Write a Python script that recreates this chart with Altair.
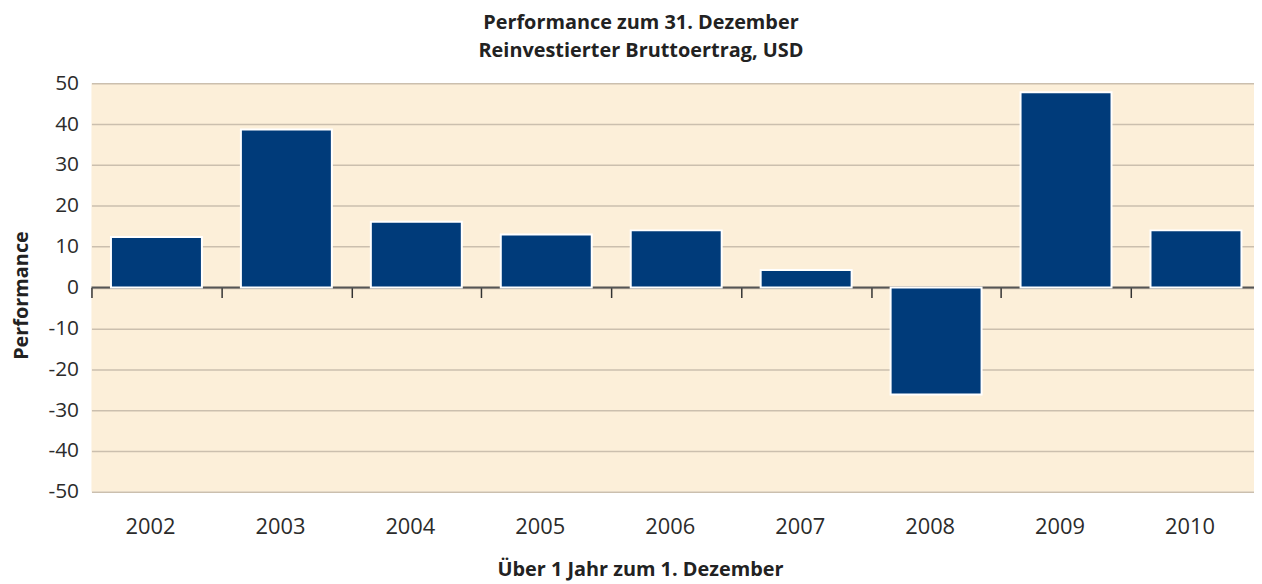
import altair as alt
import pandas as pd

years = ["2002", "2003", "2004", "2005", "2006", "2007", "2008", "2009", "2010"]
values = [12.4, 38.7, 16.1, 13.0, 14.0, 4.3, -26.2, 47.8, 14.0]
y_ticks = [-50, -40, -30, -20, -10, 0, 10, 20, 30, 40, 50]
zero_level = [0]

title_lines = ["Performance zum 31. Dezember", "Reinvestierter Bruttoertrag, USD"]
x_title = "Über 1 Jahr zum 1. Dezember"
y_title = "Performance"

FONT = "Open Sans"
BAR = "#003b7a"
BG = "#fcefd9"
GRID = "#cbbfae"
TXT = "#2b2b2b"

df = pd.DataFrame({"year": years, "value": values})
zero_df = pd.DataFrame({"zero": zero_level})

x_scale = alt.Scale(domain=years, range=[0, 1177], paddingInner=0.3, paddingOuter=0.15)
y_scale = alt.Scale(domain=[-50, 50], nice=False)

zero_line = alt.Chart(zero_df).mark_rule(color="#555555", strokeWidth=2).encode(
    y=alt.Y("zero:Q")
)

# invisible layer carrying a second x axis whose ticks sit on the zero line at band boundaries
tick_axis = alt.Chart(df).mark_tick(opacity=0).encode(
    x=alt.X(
        "year:O",
        sort=years,
        scale=x_scale,
        title=None,
        axis=alt.Axis(
            orient="bottom", offset=-205.5, labels=False, domain=False, grid=False,
            ticks=True, bandPosition=0, tickOffset=-19.6, tickSize=10, tickWidth=1.5,
            tickColor="#333333",
        ),
    ),
    y=alt.datum(0),
)

bars = alt.Chart(df).mark_bar(color=BAR, stroke="white", strokeWidth=2).encode(
    x=alt.X(
        "year:O",
        sort=years,
        scale=x_scale,
        title=x_title,
        axis=alt.Axis(
            orient="bottom",
            domain=False, ticks=False, tickSize=0, grid=False,
            labelFontSize=22, labelColor=TXT, labelPadding=25, labelOffset=-6, labelAngle=0,
            titleFontSize=20, titleFontWeight="bold", titleColor="#222222",
            titleX=552, titleY=84, titleBaseline="alphabetic", titleAlign="center",
        ),
    ),
    y=alt.Y(
        "value:Q",
        scale=y_scale,
        title=y_title,
        axis=alt.Axis(
            values=y_ticks, domain=False, ticks=False, tickSize=0,
            labelFontSize=21, labelColor=TXT, labelPadding=13,
            labelExpr="'' + datum.value",
            grid=True, gridColor=GRID, gridWidth=1.5,
            titleFontSize=20, titleFontWeight="bold", titleColor="#222222",
            titleX=-64, titleY=213, titleBaseline="alphabetic", titleAlign="center",
        ),
    ),
)

chart = alt.layer(zero_line, tick_axis, bars).resolve_axis(x="independent").properties(
    width=1170,
    height=411,
    autosize=alt.AutoSizeParams(type="none"),
    padding={"left": 84, "top": 74, "right": 0, "bottom": 90},
    title=alt.TitleParams(
        text=title_lines, fontSize=20, fontWeight="bold", font=FONT, color="#222222",
        anchor="middle", frame="group", offset=12, dx=-32, lineHeight=28,
    ),
).configure(font=FONT).configure_view(fill=BG, stroke=None)

chart.save("out.html", embed_options={"renderer": "svg", "actions": False})
